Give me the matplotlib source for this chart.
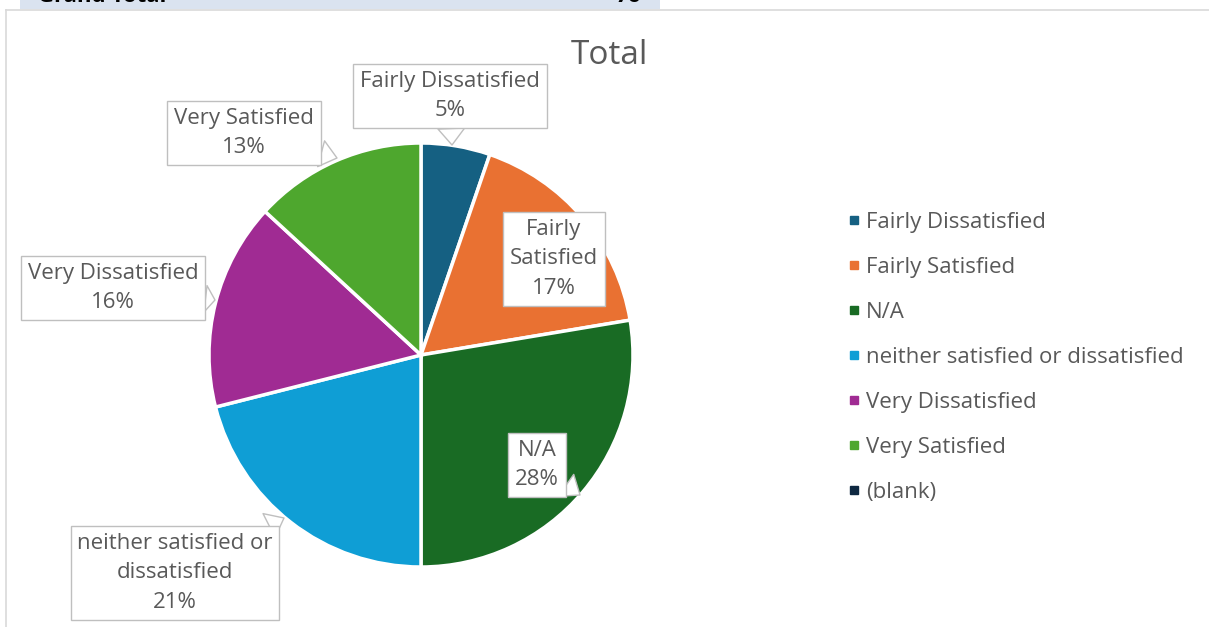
import matplotlib
matplotlib.use("Agg")
import matplotlib.pyplot as plt
from matplotlib.lines import Line2D
from matplotlib.patches import Rectangle

# data
categories = ["Fairly Dissatisfied", "Fairly Satisfied", "N/A",
              "neither satisfied or dissatisfied", "Very Dissatisfied",
              "Very Satisfied", "(blank)"]
counts = [4, 13, 21, 16, 12, 10, 0]
label_text = ["Fairly Dissatisfied", "Fairly\nSatisfied", "N/A",
              "neither satisfied or\ndissatisfied", "Very Dissatisfied",
              "Very Satisfied", "(blank)"]
colors = ["#156082", "#E97132", "#196B24", "#0F9ED5", "#A02B93",
          "#4EA72E", "#0E2841"]

W, H = 1209, 627
txt = "#595959"
fs = 16
plt.rcParams['font.family'] = ['Open Sans', 'DejaVu Sans']

fig = plt.figure(figsize=(W / 100, H / 100), dpi=100)
ax = fig.add_axes([0, 0, 1, 1])

# spreadsheet bits behind the chart
fig.patches.append(Rectangle((20 / W, 1 - 9 / H), 640 / W, 9 / H,
                             transform=fig.transFigure, fc="#DAE3F0", ec="none"))
fig.text(38 / W, 1 - 1.5 / H, "Grand Total", fontsize=16, fontweight="bold",
         color="black", va="baseline")
fig.text(641 / W, 1 - 1.5 / H, "76", fontsize=16, fontweight="bold",
         color="black", va="baseline", ha="right")
ax.plot([6, 6], [0, H - 10], color="#D9D9D9", lw=1.2)
ax.plot([6, W], [H - 10, H - 10], color="#D9D9D9", lw=1.2)

# pie, only the non-empty categories
cx, cy, r = 421, H - 355, 212
vals = [v for v in counts if v > 0]
cols = [c for v, c in zip(counts, colors) if v > 0]
wedges, _ = ax.pie(vals, colors=cols, startangle=90, counterclock=False,
                   center=(cx, cy), radius=r,
                   wedgeprops=dict(edgecolor="white", linewidth=2.5))
ax.set_xlim(0, W)
ax.set_ylim(0, H)
ax.axis("off")

total = sum(counts)
# callout boxes (pixel coords, y from top): centre of box and pointer tip
boxes = [((450, 96), (452, 145)),
         ((554, 259), None),
         ((537, 465), (580, 495)),
         ((175, 573), (284, 518)),
         ((113, 288), (215, 300)),
         ((244, 133), (337, 158))]
for i, (pos, tip) in enumerate(boxes):
    s = "%s\n%d%%" % (label_text[i], round(counts[i] / total * 100))
    bb = dict(boxstyle="square,pad=0.3", fc="white", ec="#BFBFBF", lw=1)
    if tip is None:
        ax.text(pos[0], H - pos[1], s, ha="center", va="center", fontsize=fs,
                color=txt, linespacing=1.55, bbox=bb)
    else:
        ax.annotate(s, xy=(tip[0], H - tip[1]), xytext=(pos[0], H - pos[1]),
                    ha="center", va="center", fontsize=fs, color=txt,
                    linespacing=1.55, bbox=bb,
                    arrowprops=dict(arrowstyle="wedge,tail_width=1.2",
                                    fc="white", ec="#BFBFBF", lw=1,
                                    shrinkA=0, shrinkB=0))

fig.text(609 / W, 1 - 64 / H, "Total", fontsize=24, color=txt,
         ha="center", va="baseline")

handles = [Line2D([], [], marker="s", ls="", color=c, markersize=6) for c in colors]
ax.legend(handles, categories, loc="upper left",
          bbox_to_anchor=(848 / W, 1 - 212 / H), bbox_transform=fig.transFigure,
          frameon=False, fontsize=fs, labelcolor=txt, handlelength=0.5,
          handletextpad=0.32, borderpad=0, borderaxespad=0, labelspacing=1.08)

plt.savefig("out.png", dpi=100)
